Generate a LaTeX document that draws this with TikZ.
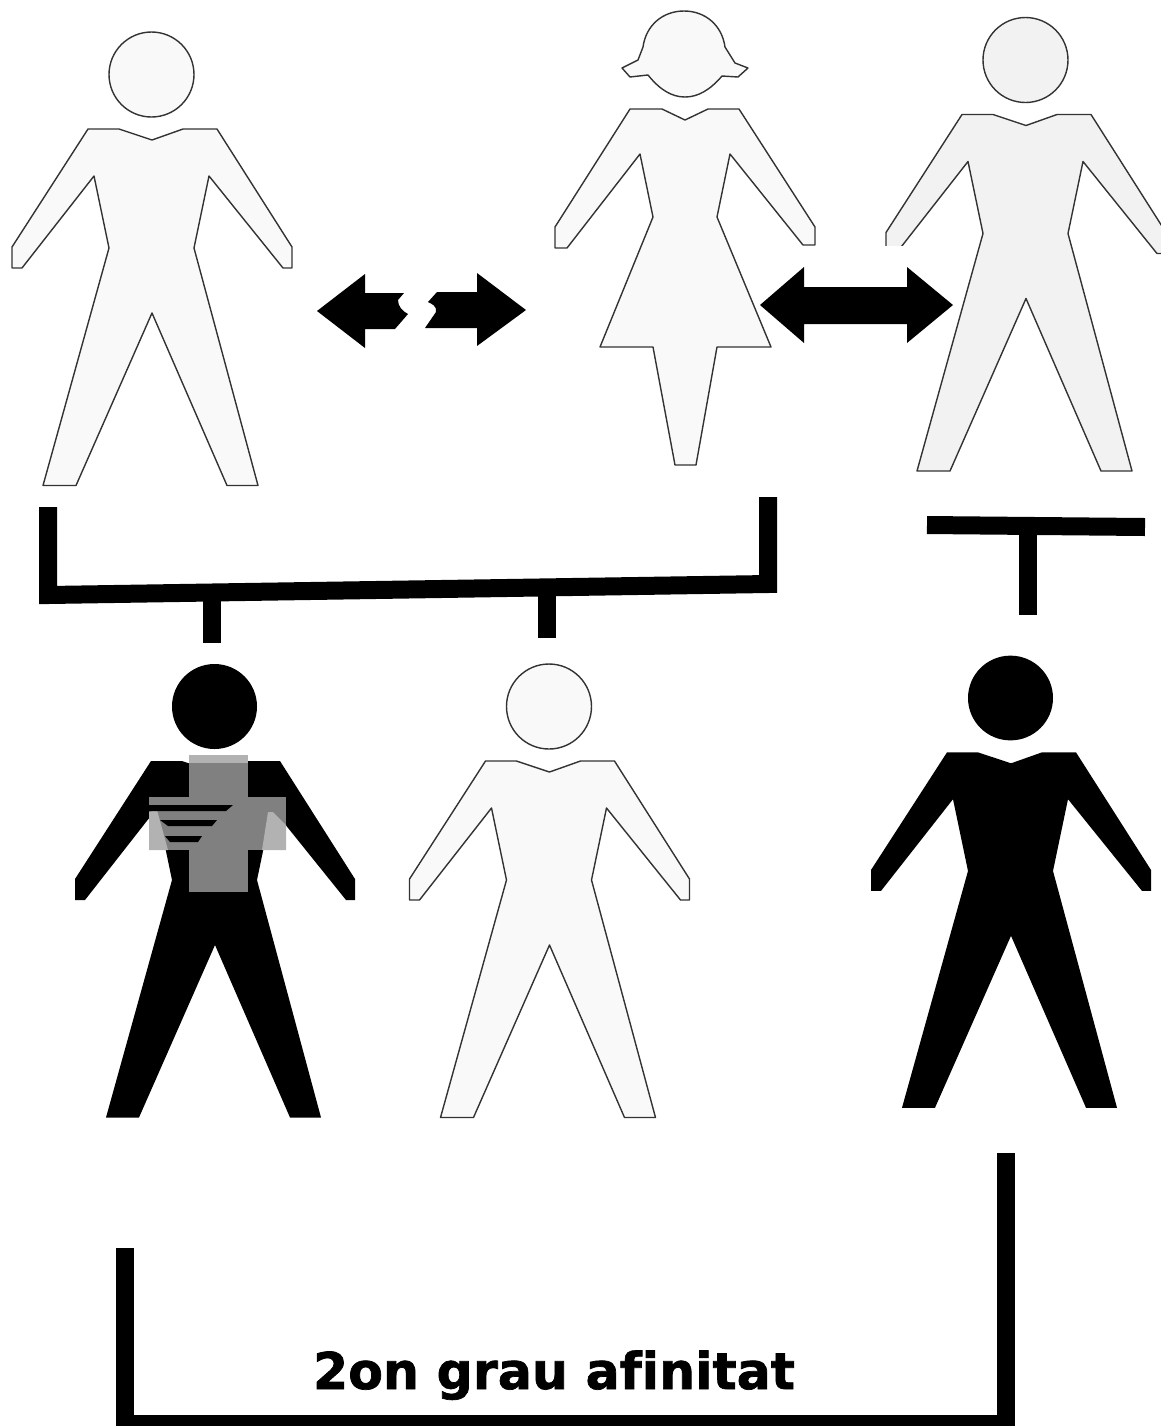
\documentclass[tikz,border=0pt]{standalone}
\usepackage{fontspec}
\newfontfamily\labelfont[FakeBold=1.4,Ligatures=NoCommon]{DejaVu Sans Bold}
\definecolor{crossgray}{gray}{0.5}
\definecolor{crosslight}{gray}{0.7}
\definecolor{figfill}{gray}{0.975}
\definecolor{figspeck}{gray}{0.95}
\tikzset{
  figline/.style={draw=black!80,line width=0.7pt,fill=figfill,line join=round},
  figblack/.style={fill=black},
  barline/.style={line width=9pt,line join=miter,line cap=butt},
  manfig/.pic={
    \path[pic actions] (0,0) circle (42.5);
    \path[pic actions] (-63.5,54.5) -- (-32.5,54.5) -- (0.5,65.5) -- (31.5,54.5) -- (65.5,54.5) -- (140.5,172.5)
      -- (140.5,193.5) -- (131.5,193.5) -- (57.5,101.5) -- (42.5,173.5) -- (106.5,411) -- (75.5,411)
      -- (0.5,238.5) -- (-75.5,411) -- (-108.5,411) -- (-42.5,173.5) -- (-57.5,101.5) -- (-129.5,193.5)
      -- (-139.5,193.5) -- (-139.5,172.5) -- cycle;
  }
}
\begin{document}
\begin{tikzpicture}[x=0.5pt,y=-0.5pt,>=stealth]
  \useasboundingbox (0,0) rectangle (1161,1426);
  \clip (0,0) rectangle (1161,1426);
  % top row
  \pic[figline] at (151.5,74.5) {manfig};
  \pic[figline,fill=figspeck] at (1025.5,60) {manfig};
  % woman with hair flicks
  \draw[figline] (622,68) -- (630,77) -- (648,75) .. controls (660,90) and (672,97) .. (685,97)
    .. controls (698,97) and (710,90) .. (722,76) -- (738,77) -- (748,68) -- (735,63) -- (725,47)
    .. controls (722,25) and (705,11) .. (684,11) .. controls (663,11) and (646,25) .. (643,47)
    -- (638,60) -- cycle;
  \draw[figline] (630,109) -- (662,109) -- (685,120) -- (708,109) -- (739,109) -- (815,227) -- (815,245)
    -- (803,245) -- (730,154) -- (717,217) -- (771,347) -- (717,347) -- (696,465) -- (675,465)
    -- (653,347) -- (600,347) -- (653,217) -- (640,154) -- (567,248) -- (555,248) -- (555,227) -- cycle;
  % arrows
  \fill[white] (795,245.5) rectangle (905,345);
  \fill (317,311) -- (365,274) -- (365,293) -- (404,293) -- (398,300) .. controls (398,306) and (402,311) .. (408,314)
    -- (395,329) -- (365,329) -- (365,348) -- cycle;
  \fill (526,310) -- (477,273) -- (477,292) -- (437,292) -- (428,302) .. controls (432,304) and (437,306) .. (436,312)
    -- (425,328) -- (477,328) -- (477,346) -- cycle;
  \fill (760,305) -- (804,267) -- (804,287) -- (907,287) -- (907,267) -- (953,305) -- (907,343)
    -- (907,324) -- (804,324) -- (804,343) -- cycle;
  % brackets
  \draw[barline] (48,507) -- (48,595) -- (768,584) -- (768,497);
  \draw[barline] (212,597) -- (212,643);
  \draw[barline] (547,590) -- (547,638);
  \draw[barline] (927,525) -- (1145,527);
  \draw[barline] (1028,527) -- (1028,615);
  % lower row
  \pic[figblack] at (214.5,706.5) {manfig};
  \pic[figline] at (549,706.5) {manfig};
  \pic[figblack,yscale=0.997] at (1010.5,698) {manfig};
  % cross on the black figure
  \fill[crossgray] (189,755) rectangle (248,892);
  \fill[crossgray] (149,797) rectangle (286,850);
  \fill[crosslight] (189,755) rectangle (248,763);
  \fill[crosslight] (268,812) -- (273,812) -- (286,825) -- (286,850) -- (262,850) -- cycle;
  \fill[crosslight] (149,812) -- (157,810) -- (168,850) -- (149,850) -- cycle;
  \fill (149,805) -- (233,805) -- (226,811) -- (149,811) -- cycle;
  \fill (160,820) -- (217,820) -- (212,826) -- (168,826) -- cycle;
  \fill (165,836) -- (202,836) -- (198,842) -- (170,842) -- cycle;
  % bottom bracket
  \draw[barline] (125,1248) -- (125,1424) -- (1006,1424) -- (1006,1153);
  \node[font=\labelfont\fontsize{25.3}{26}\selectfont,anchor=base] (label) at (554,1389) {2on grau afinitat};
\end{tikzpicture}
\end{document}
